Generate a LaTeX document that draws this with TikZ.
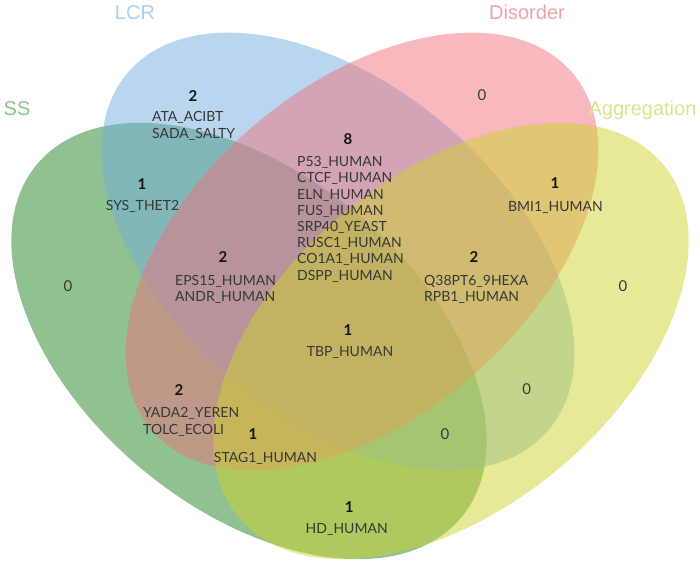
\documentclass[tikz,border=0pt]{standalone}
\usepackage{fontspec}
\setmainfont{Lato}
\newfontfamily\catfont{Liberation Sans}
\definecolor{ssc}{RGB}{31,131,35}
\definecolor{lcrc}{RGB}{115,173,221}
\definecolor{disc}{RGB}{239,115,125}
\definecolor{aggc}{RGB}{205,211,45}
\definecolor{sslab}{RGB}{140,195,142}
\definecolor{lcrlab}{RGB}{172,206,236}
\definecolor{dislab}{RGB}{243,160,170}
\definecolor{agglab}{RGB}{222,226,140}
\definecolor{txtc}{RGB}{55,55,55}
\definecolor{numc}{RGB}{20,20,20}
\tikzset{
  setfill/.style={fill opacity=0.5},
  cat/.style={inner sep=0pt, anchor=base, font=\catfont\fontsize{20}{22}\selectfont},
  txt/.style={inner sep=0pt, font=\fontsize{14}{16}\selectfont, text=txtc},
  num/.style={inner sep=0pt, anchor=base, font=\fontsize{15}{17}\selectfont\bfseries, text=numc},
  zero/.style={inner sep=0pt, anchor=base, font=\fontsize{15}{17}\selectfont, text=txtc}
}
\begin{document}
\begin{tikzpicture}[x=1pt,y=-1pt]
\useasboundingbox (0,0) rectangle (700,563);
% ellipses
\fill[ssc, setfill, rotate around={-39.7:(249,341)}] (249,341) ellipse [x radius=276pt, y radius=167pt];
\fill[lcrc, setfill, rotate around={-40.3:(338,251.5)}] (338,251.5) ellipse [x radius=276pt, y radius=166pt];
\fill[disc, setfill, rotate around={40.3:(362,251.5)}] (362,251.5) ellipse [x radius=276pt, y radius=166pt];
\fill[aggc, setfill, rotate around={39.7:(451,341)}] (451,341) ellipse [x radius=276pt, y radius=167pt];
% category labels
\node[cat, text=lcrlab] (lLCR) at (135,19) {LCR};
\node[cat, text=dislab] (lDis) at (527,19) {Disorder};
\node[cat, text=sslab] (lSS) at (17,115.5) {SS};
\node[cat, text=agglab] (lAgg) at (642.5,115.5) {Aggregation};
% LCR only
\node[num] (n1) at (193,101) {2};
\node[txt, anchor=base west] (t1a) at (152,121.7) {ATA\_ACIBT};
\node[txt, anchor=base west] (t1b) at (152,138.3) {SADA\_SALTY};
% Disorder only
\node[zero] (n2) at (482,100) {0};
% LCR & Disorder
\node[num] (n3) at (348,144) {8};
\node[txt, anchor=base west] (t3a) at (297,166.7) {P53\_HUMAN};
\node[txt, anchor=base west] (t3b) at (297,182.9) {CTCF\_HUMAN};
\node[txt, anchor=base west] (t3c) at (297,199.1) {ELN\_HUMAN};
\node[txt, anchor=base west] (t3d) at (297,215.3) {FUS\_HUMAN};
\node[txt, anchor=base west] (t3e) at (297,231.5) {SRP40\_YEAST};
\node[txt, anchor=base west] (t3f) at (297,247.7) {RUSC1\_HUMAN};
\node[txt, anchor=base west] (t3g) at (297,263.9) {CO1A1\_HUMAN};
\node[txt, anchor=base west] (t3h) at (297,280.1) {DSPP\_HUMAN};
% SS & LCR
\node[num] (n4) at (142,189) {1};
\node[txt, anchor=base] (t4a) at (142.5,210.7) {SYS\_THET2};
% Disorder & Aggregation
\node[num] (n5) at (555,188.5) {1};
\node[txt, anchor=base] (t5a) at (555.5,211.7) {BMI1\_HUMAN};
% SS & LCR & Disorder
\node[num] (n6) at (223,262.3) {2};
\node[txt, anchor=base west] (t6a) at (175,285) {EPS15\_HUMAN};
\node[txt, anchor=base west] (t6b) at (175,301) {ANDR\_HUMAN};
% LCR & Disorder & Aggregation
\node[num] (n7) at (474,262.3) {2};
\node[txt, anchor=base west] (t7a) at (424,285) {Q38PT6\_9HEXA};
\node[txt, anchor=base west] (t7b) at (424,301) {RPB1\_HUMAN};
% SS only, Aggregation only
\node[zero] (n8) at (68,291.7) {0};
\node[zero] (n9) at (623,291.7) {0};
% all four
\node[num] (n10) at (348,335.7) {1};
\node[txt, anchor=base] (t10a) at (350,356.7) {TBP\_HUMAN};
% LCR & Aggregation
\node[zero] (n11) at (526.7,394.3) {0};
% SS & LCR & Aggregation
\node[zero] (n12) at (445,439) {0};
% SS & Disorder
\node[num] (n13) at (179,395) {2};
\node[txt, anchor=base west] (t13a) at (143,417.3) {YADA2\_YEREN};
\node[txt, anchor=base west] (t13b) at (143,434) {TOLC\_ECOLI};
% SS & Disorder & Aggregation
\node[num] (n14) at (253,439.3) {1};
\node[txt, anchor=base] (t14a) at (265.5,462.3) {STAG1\_HUMAN};
% SS & Aggregation
\node[num] (n15) at (349.3,512.7) {1};
\node[txt, anchor=base] (t15a) at (346.7,533.3) {HD\_HUMAN};
\end{tikzpicture}
\end{document}
